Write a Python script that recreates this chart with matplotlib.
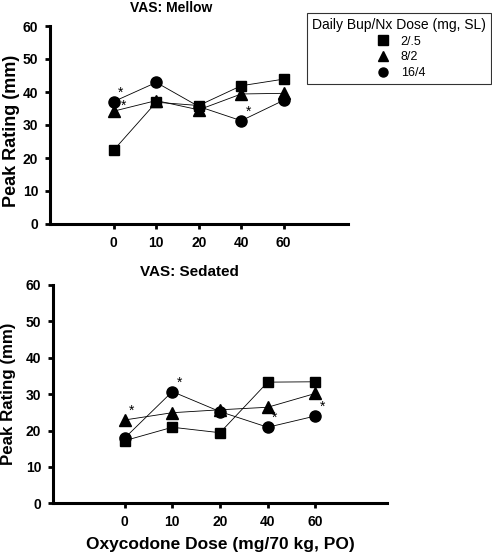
import matplotlib
matplotlib.use("Agg")
import matplotlib.pyplot as plt
from matplotlib.lines import Line2D

plt.rcParams['font.family'] = ['Liberation Sans', 'DejaVu Sans']

# oxycodone dose conditions (categorical x axis)
doses = ['0', '10', '20', '40', '60']
groups = ['2/.5', '8/2', '16/4']
markers = ['s', '^', 'o']

# VAS: Mellow peak ratings (mm)
mellow_low = [22.4, 36.9, 35.9, 41.9, 43.9]
mellow_mid = [34.2, 37.4, 34.6, 39.4, 39.6]
mellow_high = [37.1, 42.9, 35.6, 31.3, 37.5]

# VAS: Sedated peak ratings (mm)
sedated_low = [17.2, 20.9, 19.4, 33.3, 33.4]
sedated_mid = [22.9, 24.9, 25.7, 26.4, 30.2]
sedated_high = [17.9, 30.7, 25.2, 20.9, 24.0]

# significance stars: (group index, dose index)
mellow_stars = [(2, 0), (1, 0), (2, 3)]
sedated_stars = [(1, 0), (2, 1), (2, 3), (2, 4)]

W, H = 492, 556
fig = plt.figure(figsize=(W / 100, H / 100), dpi=100)


def px_axes(left, right, top, bottom):
    return fig.add_axes([left / W, 1 - bottom / H, (right - left) / W, (bottom - top) / H])


def draw_panel(ax, series, stars, ylabel_size):
    xs = list(range(len(doses)))
    for vals, m in zip(series, markers):
        ax.plot(xs, vals, color='black', lw=0.6, marker=m,
                ms=7.5 if m == 's' else 8, mfc='black', mec='black', zorder=3)
    for g, i in stars:
        # triangle stars sit lower, beside the marker
        off = (7, -1.5) if markers[g] == '^' and i == 0 and series[2][i] > series[g][i] else (5, 1.5)
        ax.annotate('*', (xs[i], series[g][i]), xytext=off, textcoords='offset points',
                    ha='center', va='bottom', fontsize=10, zorder=5)
    ax.set_xlim(-1.5, 5.5)
    ax.set_ylim(0, 60)
    ax.set_xticks(xs)
    ax.set_xticklabels(doses)
    ax.set_yticks(range(0, 61, 10))
    for s in ['top', 'right']:
        ax.spines[s].set_visible(False)
    for s in ['left', 'bottom']:
        ax.spines[s].set_linewidth(2.2)
    ax.tick_params(width=2.0, length=3.5, pad=5, labelsize=10)
    for lab in ax.get_xticklabels() + ax.get_yticklabels():
        lab.set_fontweight('bold')
    ax.set_ylabel('Peak Rating (mm)', fontsize=ylabel_size, fontweight='bold')


ax1 = px_axes(50, 347.5, 26, 224)
draw_panel(ax1, [mellow_low, mellow_mid, mellow_high], mellow_stars, 13)
ax1.yaxis.set_label_coords(-0.10, 0.47)
fig.text(170.7 / W, 1 - 8 / H, 'VAS: Mellow', ha='center', va='center',
         fontsize=10, fontweight='bold')

ax2 = px_axes(53, 387, 285, 503.3)
draw_panel(ax2, [sedated_low, sedated_mid, sedated_high], sedated_stars, 12.2)
ax2.yaxis.set_label_coords(-0.11, 0.5)
fig.text(189 / W, 1 - 272 / H, 'VAS: Sedated', ha='center', va='center',
         fontsize=11, fontweight='bold')
ax2.set_xlabel('Oxycodone Dose (mg/70 kg, PO)', fontsize=12.5, fontweight='bold', labelpad=6)

handles = [Line2D([], [], ls='none', marker=m, color='black', ms=6.5) for m in markers]
leg = fig.legend(handles, groups, loc='upper right', bbox_to_anchor=(491 / W, 1 - 13 / H),
                 title='Daily Bup/Nx Dose (mg, SL)', title_fontsize=10, fontsize=9,
                 frameon=True, fancybox=False, edgecolor='black', borderaxespad=0,
                 handlelength=1.6, handletextpad=0.6, labelspacing=0.3, borderpad=0.4)
leg.get_frame().set_linewidth(0.8)

fig.savefig('out.png', dpi=100)
